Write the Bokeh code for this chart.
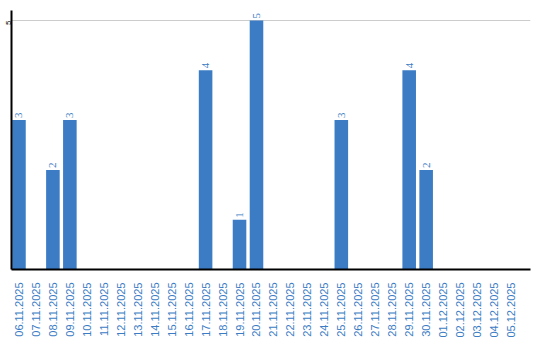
from math import pi
from bokeh.plotting import figure
from bokeh.models import Range1d, FixedTicker, ColumnDataSource
from bokeh.embed import file_html
from bokeh.resources import INLINE

dates = ["06.11.2025", "07.11.2025", "08.11.2025", "09.11.2025", "10.11.2025",
         "11.11.2025", "12.11.2025", "13.11.2025", "14.11.2025", "15.11.2025",
         "16.11.2025", "17.11.2025", "18.11.2025", "19.11.2025", "20.11.2025",
         "21.11.2025", "22.11.2025", "23.11.2025", "24.11.2025", "25.11.2025",
         "26.11.2025", "27.11.2025", "28.11.2025", "29.11.2025", "30.11.2025",
         "01.12.2025", "02.12.2025", "03.12.2025", "04.12.2025", "05.12.2025"]
values = [3, 0, 2, 3, 0, 0, 0, 0, 0, 0, 0, 4, 0, 1, 5, 0, 0, 0, 0, 3,
          0, 0, 0, 4, 2, 0, 0, 0, 0, 0]
y_ticks = [5]

BLUE = "#3b7cc4"

idx = list(range(len(dates)))
src = ColumnDataSource(dict(x=idx, top=values))
nz = [i for i in idx if values[i] > 0]
lbl = ColumnDataSource(dict(x=nz, y=[values[i] for i in nz],
                            t=[str(values[i]) for i in nz]))

p = figure(width=540, height=340, output_backend="svg", toolbar_location=None,
           x_range=Range1d(-0.44, 30.15), y_range=Range1d(0, 5.2),
           min_border_left=10, min_border_right=10, min_border_top=10,
           min_border_bottom=0)
p.outline_line_color = None
p.background_fill_color = "white"
p.border_fill_color = "white"

p.vbar(x="x", top="top", width=0.8, bottom=0, source=src,
       fill_color=BLUE, line_color=None)
p.text(x="x", y="y", text="t", source=lbl, angle=pi / 2,
       text_align="left", text_baseline="middle", y_offset=-2,
       text_color=BLUE, text_font_size="11px", text_font="Liberation Sans")

p.xaxis.ticker = FixedTicker(ticks=idx)
p.xaxis.major_label_overrides = {i: d for i, d in enumerate(dates)}
p.xaxis.major_label_orientation = pi / 2
p.xaxis.major_label_text_color = BLUE
p.xaxis.major_label_text_font = "Liberation Sans"
p.xaxis.major_label_text_font_size = "11px"
p.xaxis.major_tick_line_color = None
p.xaxis.minor_tick_line_color = None
p.xaxis.axis_line_color = "black"
p.xaxis.axis_line_width = 2
p.xaxis.major_label_standoff = 7
p.xgrid.grid_line_color = None

p.yaxis.ticker = FixedTicker(ticks=y_ticks)
p.yaxis.major_label_orientation = pi / 2
p.yaxis.major_label_text_color = "black"
p.yaxis.major_label_text_font = "Liberation Sans"
p.yaxis.major_label_text_font_size = "8px"
p.yaxis.major_tick_line_color = None
p.yaxis.minor_tick_line_color = None
p.yaxis.major_tick_out = 0
p.yaxis.major_label_standoff = 3
p.yaxis.axis_line_color = "black"
p.yaxis.axis_line_width = 2
p.ygrid.ticker = FixedTicker(ticks=y_ticks)
p.ygrid.grid_line_color = "#cccccc"
p.ygrid.grid_line_width = 1

open("out.html", "w").write(file_html(p, INLINE))
